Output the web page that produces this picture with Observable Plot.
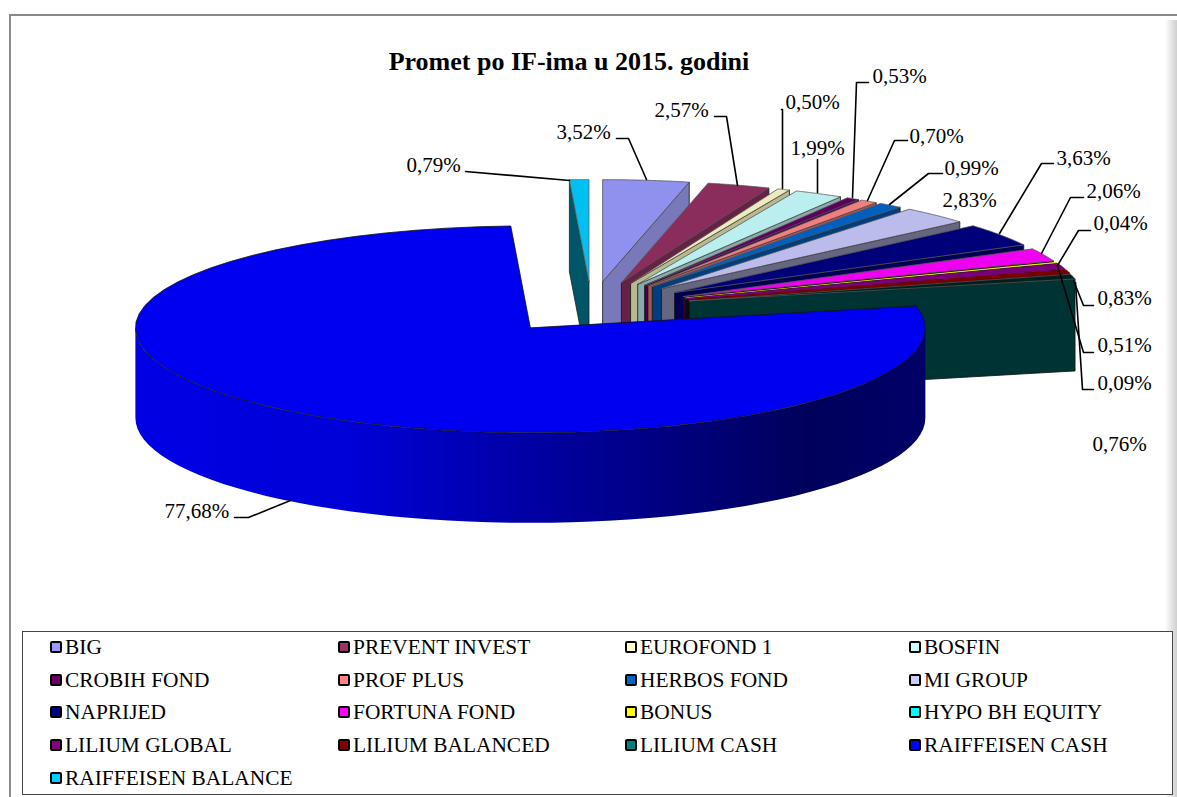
<!DOCTYPE html>
<html><head><meta charset="utf-8">
<script src="https://cdn.jsdelivr.net/npm/d3@7"></script>
<script src="https://cdn.jsdelivr.net/npm/@observablehq/plot@0.6"></script>
<style>
html,body{margin:0;padding:0;background:#fff;overflow:hidden}
#page{position:relative;width:1177px;height:797px;font-family:"Liberation Serif",serif;color:#000}
#frame{position:absolute;left:9px;top:14px;width:1168px;height:790px;border-left:2px solid #8a8a8a;border-top:2px solid #8a8a8a;box-sizing:border-box}
#shade{position:absolute;left:1165px;top:20px;width:12px;height:777px;background:linear-gradient(to right,rgba(205,205,205,0),#cfcfcf)}
#chart{position:absolute;left:0;top:0}
#title{position:absolute;left:0;top:47px;width:1138px;text-align:center;font-weight:bold;font-size:26px;line-height:30px}
#legend{position:absolute;left:22px;top:631px;width:1151px;height:164px;box-sizing:border-box;border:1px solid #444;background:#fff}
.item{position:absolute;display:flex;align-items:center;font-size:21.4px;line-height:24px;white-space:nowrap}
.sw{width:8px;height:8px;border:2px solid #000;border-radius:2px;margin-right:3px;flex:none}
</style></head><body>
<div id="page"><div id="frame"></div><div id="shade"></div><div id="chart"></div>
<div id="title">Promet po IF-ima u 2015. godini</div><div id="legend"></div></div>
<script>
// DATA
const funds = ["BIG","PREVENT INVEST","EUROFOND 1","BOSFIN","CROBIH FOND","PROF PLUS","HERBOS FOND","MI GROUP","NAPRIJED","FORTUNA FOND","BONUS","HYPO BH EQUITY","LILIUM GLOBAL","LILIUM BALANCED","LILIUM CASH","RAIFFEISEN CASH","RAIFFEISEN BALANCE"];
const shares = [3.52,2.57,0.50,1.99,0.53,0.70,0.99,2.83,3.63,2.06,0.09,0.04,0.83,0.51,0.76,77.68,0.79];
const topColors = ["#9090ee","#8b2d5c","#ecebc0","#bbeeee","#5e005e","#f08080","#0060c0","#bcbcec","#000078","#f000f0","#f0f000","#00f0f0","#780078","#780000","#001f1f","#0000f0","#00c0f0"];
const wallColors = ["#7878bb","#662244","#b9b98f","#88aaaa","#440044","#aa5555","#003f7f","#666680","#000055","#330033","#111100","#001111","#1a001a","#1a0000","#003333","#0000a0","#005566"];
const legendColors = ["#9999ff","#993366","#ffffcc","#ccffff","#660066","#ff8080","#0066cc","#ccccff","#000080","#ff00ff","#ffff00","#00ffff","#800080","#800000","#008080","#0000ff","#00ccff"];

// LAYOUT of the pie and the labels (not data)
const cx = 591, cy = 306.5, rx = 395, ryBack = 102, ryFront = 105, depth = 92, bigDepth = 90, explodeX = 0.255, explodeY = 0.25;
const labelAt = [[556,132],[654,110],[785,102],[790,148],[872,76],[909,136],[944,168],[942,200],[1056,158],[1086,191],[1097,383],[1093,223],[1097,298],[1097,345],[1092,444],[164,511],[406,165]];
const leaders = [
 [[616,138],[628,138],[646,179]],
 [[714,116],[726,116],[737,185]],
 [[781,109],[782,109],[782,188]],
 [[817,159],[817,192]],
 [[868,82],[856,82],[852,197]],
 [[907,140],[894,140],[867,200]],
 [[942,173],[928,173],[889,204]],
 [[1053,163],[1041,163],[999,233]],
 [[1083,197],[1070,197],[1041,253]],
 [[1093,389],[1082,389],[1075,282]],
 [[1090,230],[1078,230],[1057,265]],
 [[1093,305],[1083,305],[1073,280]],
 [[1093,352],[1083,352],[1057,265]],
 [[234,517],[248,517],[290,500]],
 [[465,171],[569,180]]
];
const ry = v => v >= 0 ? v * ryBack : v * ryFront;
const total = d3.sum(shares);
let run = 0;
const slices = shares.map((s, i) => {
  const a0 = run / total * 2 * Math.PI; run += s;
  const a1 = run / total * 2 * Math.PI, mid = (a0 + a1) / 2;
  const ox = cx + explodeX * rx * Math.sin(mid), oy = cy - ry(explodeY * Math.cos(mid));
  return {i, a0, a1, ox, oy};
});
const pt = (s, a, dz = 0) => [s.ox + rx * Math.sin(a), s.oy - ry(Math.cos(a)) + dz];
const arc = (s, a0, a1, dz = 0) => d3.range(0, 61).map(k => pt(s, a0 + (a1 - a0) * k / 60, dz));

// faces in paint order: back slices first, the large slice last
const faces = []; let fid = 0;
const addFace = (poly, fill, stroke = "#222", sw = 0.8) => {
  const id = fid++;
  [...poly, poly[0]].forEach(([x, y]) => faces.push({x, y, id, fill, stroke, sw}));
};
const last = slices[16], big = slices[15];
addFace([[last.ox, last.oy], [last.ox, last.oy + depth], pt(last, last.a0, depth), pt(last, last.a0)], wallColors[16]);
addFace([[last.ox, last.oy], ...arc(last, last.a0, last.a1)], topColors[16], "#666");
slices.slice(0, 15).forEach(s => {
  const thin = s.i >= 10 && s.i <= 13;
  addFace([[s.ox, s.oy], pt(s, s.a1), pt(s, s.a1, depth), [s.ox, s.oy + depth]], wallColors[s.i], "#111", thin ? 0.5 : 0.8);
  if (s.i === 11) return; // sliver too thin to show in the picture
  addFace([[s.ox, s.oy], ...arc(s, s.a0, s.a1)], topColors[s.i], thin ? topColors[s.i] : "#555", thin ? 1.1 : 0.8);
});
// large slice: rim with a left-to-right shading, then its top
const rimStart = Math.PI / 2, rimEnd = 3 * Math.PI / 2;
const rimStops = [[0, "#0000e4"], [0.27, "#0000d8"], [0.5, "#0000a4"], [0.85, "#00005c"], [1, "#000068"]];
const rimDefs = () => {
  const defs = d3.create("svg:defs");
  const g = defs.append("linearGradient").attr("id", "rimShade");
  rimStops.forEach(([o, c]) => g.append("stop").attr("offset", o).attr("stop-color", c));
  return defs.node();
};
const rimPoly = [...arc(big, rimStart, rimEnd), ...arc(big, rimEnd, rimStart, bigDepth)];
const rimPts = [...rimPoly, rimPoly[0]].map(([x, y]) => ({x, y}));
const bigTop = [[big.ox, big.oy], ...arc(big, big.a0, big.a1)];
const topPts = [...bigTop, bigTop[0]].map(([x, y]) => ({x, y}));

const labels = shares.map((s, i) => ({text: s.toFixed(2).replace(".", ",") + "%", x: labelAt[i][0], y: labelAt[i][1]}));
const leaderPts = leaders.flatMap((l, id) => l.map(([x, y]) => ({x, y, id})));

const W = 1177, H = 631;
const plot = Plot.plot({
  width: W, height: H, margin: 0,
  x: {domain: [0, W], range: [0, W], axis: null},
  y: {domain: [0, H], range: [0, H], axis: null},
  style: {background: "transparent", overflow: "visible"},
  marks: [
    rimDefs,
    Plot.line(faces, {x: "x", y: "y", z: "id", fill: d => d.fill, stroke: d => d.stroke, strokeWidth: d => d.sw, curve: "linear"}),
    Plot.line(rimPts, {x: "x", y: "y", fill: "url(#rimShade)", stroke: "none"}),
    Plot.line(topPts, {x: "x", y: "y", fill: topColors[15], stroke: "#111", strokeWidth: 0.8}),
    Plot.line(leaderPts, {x: "x", y: "y", z: "id", stroke: "#000", strokeWidth: 1.6}),
    Plot.text(labels, {x: "x", y: "y", text: "text", textAnchor: "start", fontSize: 21, fontFamily: "Liberation Serif", fill: "#000"})
  ]
});
document.getElementById("chart").append(plot);

const colX = [27, 315, 602, 886], rowY = [0, 33, 65, 98, 131];
const legend = document.getElementById("legend");
funds.forEach((f, i) => {
  const el = document.createElement("div");
  el.className = "item";
  el.style.left = colX[i % 4] + "px";
  el.style.top = (3 + rowY[Math.floor(i / 4)]) + "px";
  const sw = document.createElement("span"); sw.className = "sw"; sw.style.background = legendColors[i];
  el.append(sw, document.createTextNode(f));
  legend.append(el);
});
</script></body></html>
